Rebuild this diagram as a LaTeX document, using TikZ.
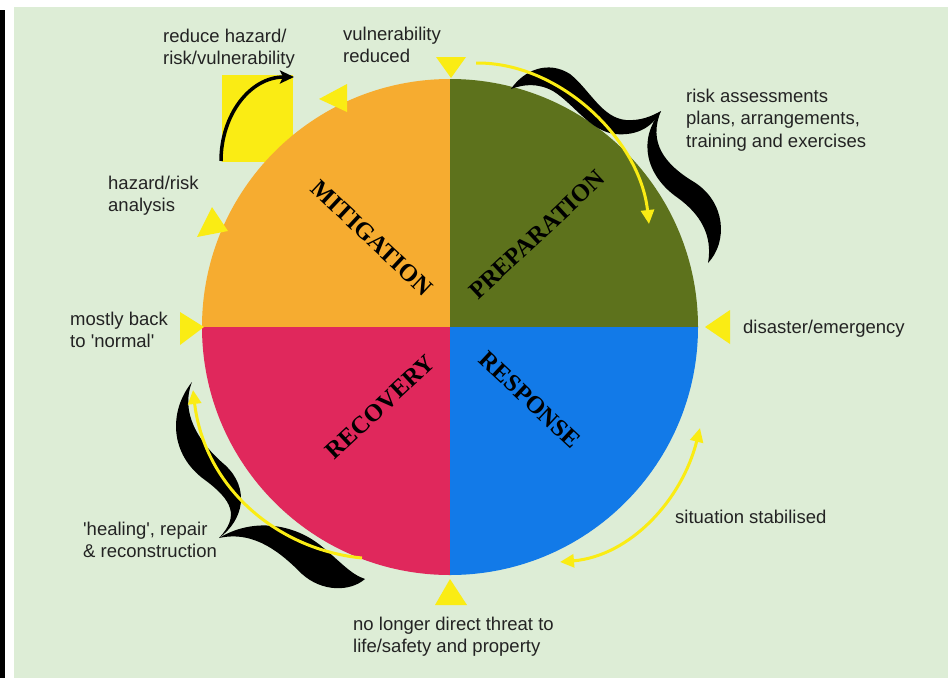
\documentclass[tikz,border=0pt]{standalone}
\usepackage{fontspec}
\setmainfont{Liberation Sans}
\newfontfamily\quadfont{Liberation Serif}
\usetikzlibrary{arrows.meta}
\definecolor{bgc}{RGB}{221,237,214}
\definecolor{mitc}{RGB}{246,172,48}
\definecolor{prepc}{RGB}{93,114,28}
\definecolor{respc}{RGB}{18,122,232}
\definecolor{recc}{RGB}{224,40,92}
\definecolor{yel}{RGB}{250,236,20}
\definecolor{txt}{RGB}{35,35,35}
\newcommand{\sq}{\textquotesingle}
\tikzset{
  lbl/.style={anchor=north west, inner sep=0pt, align=left, text=txt,
    font=\fontsize{18.5}{22.5}\selectfont},
  quad/.style={inner sep=0pt, text=black,
    font=\quadfont\bfseries\fontsize{24.5}{24.5}\selectfont},
  yarrow/.style={draw=yel, line width=3pt, -{Triangle[length=14pt,width=13pt]}},
  ydarrow/.style={draw=yel, line width=3pt, {Triangle[length=14pt,width=13pt]}-{Triangle[length=14pt,width=13pt]}},
  tri/.style={fill=yel},
  swirl/.style={fill=black}
}
\begin{document}
\begin{tikzpicture}[x=1pt,y=-1pt]
\useasboundingbox (0,0) rectangle (948,678);
\fill[white] (0,0) rectangle (948,678);
\fill[bgc] (14,7) rectangle (948,678);
\fill[black] (0,10) rectangle (5,678);

% yellow square behind circle
\fill[yel] (222,75) rectangle (293,162);

% circle quadrants
\coordinate (c) at (450,327);
\begin{scope}
  \clip (c) circle (248pt);
  \fill[mitc] (c) rectangle (190,60);
  \fill[prepc] (c) rectangle (710,60);
  \fill[respc] (c) rectangle (710,590);
  \fill[recc] (c) rectangle (190,590);
\end{scope}

% black arrow on yellow square
\coordinate (ba1) at (221,161);
\coordinate (ba2) at (294,77);
\draw[line width=3.5pt, -{Stealth[length=14pt,width=13pt,inset=3pt]}]
  (ba1) .. controls (221,115) and (250,77) .. (ba2);

% black swirl top right
\fill[swirl] (511,89) .. controls (524,70) and (548,60) .. (570,74)
  .. controls (590,90) and (602,118) .. (626,120)
  .. controls (641,121) and (652,116) .. (661,111)
  .. controls (652,128) and (636,136) .. (615,134)
  .. controls (590,131) and (574,104) .. (553,91)
  .. controls (538,83) and (524,84) .. (511,89) -- cycle;
\fill[swirl] (661,111) .. controls (648,142) and (664,164) .. (694,182)
  .. controls (726,202) and (728,242) .. (708,263)
  .. controls (713,235) and (700,214) .. (678,198)
  .. controls (646,176) and (637,140) .. (661,111) -- cycle;

% black swirl bottom left
\fill[swirl] (192,382) .. controls (168,412) and (170,455) .. (205,480)
  .. controls (232,500) and (240,516) .. (219,538)
  .. controls (244,520) and (250,488) .. (225,465)
  .. controls (198,442) and (180,412) .. (192,382) -- cycle;
\fill[swirl] (219,538) .. controls (252,518) and (292,523) .. (320,545)
  .. controls (340,561) and (350,574) .. (365,579)
  .. controls (350,592) and (322,592) .. (302,574)
  .. controls (282,554) and (255,530) .. (219,538) -- cycle;

% yellow arrows
\coordinate (ya1) at (476,63);
\coordinate (ya2) at (649,224);
\draw[yarrow] (ya1) .. controls (560,62) and (640,140) .. (ya2);
\coordinate (yb1) at (560,562);
\coordinate (yb2) at (700,428);
\draw[ydarrow] (yb1) .. controls (630,556) and (682,500) .. (yb2);
\coordinate (yc1) at (362,558);
\coordinate (yc2) at (193,390);
\draw[yarrow] (yc1) .. controls (280,550) and (205,490) .. (yc2);

% yellow triangles
\fill[tri] (436,57) -- (466,57) -- (451,78) -- cycle;
\fill[tri] (319,99) -- (347,84) -- (347,112) -- cycle;
\fill[tri] (212,207) -- (197,237) -- (228,231) -- cycle;
\fill[tri] (180,312) -- (180,345) -- (204,327) -- cycle;
\fill[tri] (705,327) -- (730,310) -- (730,344) -- cycle;
\fill[tri] (450,579) -- (435,605) -- (467,605) -- cycle;

% quadrant labels
\node[quad, rotate=-43] (mit) at (372,238) {MITIGATION};
\node[quad, rotate=43] (prep) at (537,235) {PREPARATION};
\node[quad, rotate=-43] (resp) at (530,400) {RESPONSE};
\node[quad, rotate=43] (rec) at (380,407) {RECOVERY};

% labels
\node[lbl] (t1) at (163,28.5) {reduce hazard/\\risk/vulnerability};
\node[lbl] (t2) at (343,26.5) {vulnerability\\reduced};
\node[lbl] (t3) at (686,88.5) {risk assessments\\plans, arrangements,\\training and exercises};
\node[lbl] (t4) at (108,175.5) {hazard/risk\\analysis};
\node[lbl] (t5) at (70,311.5) {mostly back\\to \sq normal\sq};
\node[lbl] (t6) at (743,319.5) {disaster/emergency};
\node[lbl] (t7) at (675,509.5) {situation stabilised};
\node[lbl] (t8) at (83,521.5) {\sq healing\sq, repair\\\& reconstruction};
\node[lbl] (t9) at (353,616.5) {no longer direct threat to\\life/safety and property};
\end{tikzpicture}
\end{document}
